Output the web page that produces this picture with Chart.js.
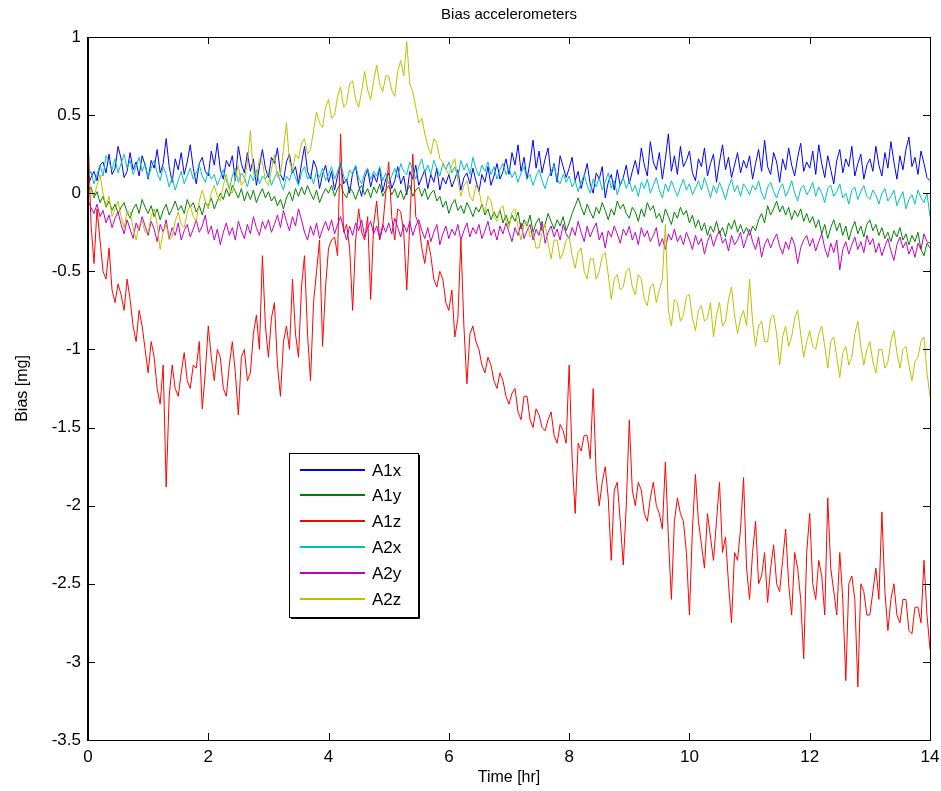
<!DOCTYPE html>
<html>
	<head>
		<meta charset="UTF-8">
		<title>Bias accelerometers</title>
		<script src="https://cdn.jsdelivr.net/npm/chart.js@4.4.1/dist/chart.umd.min.js"></script>
		<style type="text/css">
			*{
				margin: 0;
				padding: 0;
			}
			body{
				background: white;
			}
		</style>
	</head>
	<body>
		<canvas id="biasChart" width="941" height="791"></canvas>
		<script type="text/javascript">
			// time axis [hr], one row per hour
			var hours = [
				0,0.05,0.1,0.15,0.2,0.25,0.3,0.35,0.4,0.45,0.5,0.55,0.6,0.65,0.7,0.75,0.8,0.85,0.9,0.95,
				1,1.05,1.1,1.15,1.2,1.25,1.3,1.35,1.4,1.45,1.5,1.55,1.6,1.65,1.7,1.75,1.8,1.85,1.9,1.95,
				2,2.05,2.1,2.15,2.2,2.25,2.3,2.35,2.4,2.45,2.5,2.55,2.6,2.65,2.7,2.75,2.8,2.85,2.9,2.95,
				3,3.05,3.1,3.15,3.2,3.25,3.3,3.35,3.4,3.45,3.5,3.55,3.6,3.65,3.7,3.75,3.8,3.85,3.9,3.95,
				4,4.05,4.1,4.15,4.2,4.25,4.3,4.35,4.4,4.45,4.5,4.55,4.6,4.65,4.7,4.75,4.8,4.85,4.9,4.95,
				5,5.05,5.1,5.15,5.2,5.25,5.3,5.35,5.4,5.45,5.5,5.55,5.6,5.65,5.7,5.75,5.8,5.85,5.9,5.95,
				6,6.05,6.1,6.15,6.2,6.25,6.3,6.35,6.4,6.45,6.5,6.55,6.6,6.65,6.7,6.75,6.8,6.85,6.9,6.95,
				7,7.05,7.1,7.15,7.2,7.25,7.3,7.35,7.4,7.45,7.5,7.55,7.6,7.65,7.7,7.75,7.8,7.85,7.9,7.95,
				8,8.05,8.1,8.15,8.2,8.25,8.3,8.35,8.4,8.45,8.5,8.55,8.6,8.65,8.7,8.75,8.8,8.85,8.9,8.95,
				9,9.05,9.1,9.15,9.2,9.25,9.3,9.35,9.4,9.45,9.5,9.55,9.6,9.65,9.7,9.75,9.8,9.85,9.9,9.95,
				10,10.05,10.1,10.15,10.2,10.25,10.3,10.35,10.4,10.45,10.5,10.55,10.6,10.65,10.7,10.75,10.8,10.85,10.9,10.95,
				11,11.05,11.1,11.15,11.2,11.25,11.3,11.35,11.4,11.45,11.5,11.55,11.6,11.65,11.7,11.75,11.8,11.85,11.9,11.95,
				12,12.05,12.1,12.15,12.2,12.25,12.3,12.35,12.4,12.45,12.5,12.55,12.6,12.65,12.7,12.75,12.8,12.85,12.9,12.95,
				13,13.05,13.1,13.15,13.2,13.25,13.3,13.35,13.4,13.45,13.5,13.55,13.6,13.65,13.7,13.75,13.8,13.85,13.9,13.95,
				14
			];

			// bias values [mg]
			var a1x = [
				0.05,0.1,0.14,0.08,0.18,0.2,0.13,0.25,0.12,0.16,0.3,0.22,0.1,0.14,0.26,0.15,0.2,0.11,0.24,0.18,
				0.09,0.21,0.16,0.28,0.13,0.19,0.35,0.17,0.07,0.22,0.15,0.26,0.12,0.2,0.31,0.16,0.06,0.19,0.23,0.14,
				0.11,0.27,0.18,0.32,0.15,0.09,0.21,0.17,0.24,0.08,0.3,0.19,0.13,0.26,0.14,0.22,0.05,0.17,0.28,0.16,
				0.1,0.23,0.19,0.29,0.12,0.08,0.2,0.25,0.13,0.17,0.06,0.19,0.3,0.14,0.09,0.21,0.16,0.03,0.12,0.18,
				0.07,0.14,0.02,0.11,0.19,0.06,0.09,0,0.13,0.17,0.05,-0.02,0.1,0.15,0.04,0.12,0.07,0.16,0.01,0.09,
				0.13,0.03,0.08,0.17,0.06,0.11,-0.01,0.14,0.09,0.18,0.05,0.1,0.15,0.03,0.12,0.07,0.16,0.02,0.1,0.06,
				0.12,0.04,0.09,0.15,0.02,0.1,0.13,0.06,0.16,0.08,0.01,0.12,0.07,0.17,0.05,0.11,0.19,0.09,0.14,0.22,
				0.12,0.26,0.18,0.31,0.14,0.23,0.09,0.2,0.34,0.16,0.27,0.13,0.22,0.29,0.11,0.19,0.07,0.24,0.17,0.1,
				0.16,0.23,0.08,0.14,0.03,0.11,0.19,0.06,0,0.13,0.09,0.17,-0.03,0.07,0.12,0.02,0.15,0.05,0.1,0.18,
				0.06,0.14,0.21,0.12,0.29,0.18,0.11,0.33,0.2,0.15,0.26,0.09,0.22,0.38,0.14,0.24,0.12,0.3,0.17,0.21,
				0.27,0.13,0.08,0.22,0.17,0.29,0.11,0.19,0.25,0.07,0.2,0.31,0.15,0.23,0.1,0.18,0.26,0.13,0.21,0.16,
				0.24,0.09,0.19,0.28,0.14,0.34,0.17,0.12,0.26,0.2,0.07,0.22,0.15,0.29,0.18,0.11,0.23,0.32,0.14,0.2,
				0.16,0.27,0.12,0.31,0.19,0.1,0.24,0.15,0.06,0.21,0.28,0.13,0.22,0.17,0.3,0.11,0.19,0.25,0.09,0.18,
				0.22,0.14,0.3,0.18,0.11,0.26,0.16,0.33,0.2,0.09,0.24,0.15,0.28,0.36,0.17,0.23,0.12,0.27,0.19,0.1,
				0.08
			];
			var a1y = [
				0.02,0.04,-0.03,0.01,-0.06,-0.02,-0.09,-0.05,-0.11,-0.07,-0.13,-0.09,-0.06,-0.12,-0.16,-0.1,-0.07,-0.13,-0.04,-0.09,
				-0.13,-0.08,-0.15,-0.1,-0.17,-0.11,-0.07,-0.14,-0.1,-0.05,-0.11,-0.08,-0.13,-0.04,-0.09,-0.06,-0.12,-0.08,-0.14,-0.06,
				-0.08,-0.03,-0.1,-0.05,0,-0.04,0.03,-0.02,0.05,0.01,-0.03,0.03,-0.05,0.01,-0.04,0.02,-0.06,-0.01,0.03,-0.03,
				0.01,-0.05,-0.02,-0.08,-0.04,-0.1,-0.03,0.01,-0.05,0.03,-0.02,0.04,-0.01,0.05,0,-0.04,0.02,-0.06,-0.01,0.03,
				0,0.05,-0.02,0.03,0.06,0,-0.03,0.04,0.01,-0.04,0.02,0.05,-0.01,0.03,-0.03,0.04,0,0.06,-0.02,0.02,
				0.05,-0.01,0.03,-0.03,0.02,-0.04,0.01,0.05,-0.02,0.02,0.04,-0.02,0.03,-0.04,0,0.02,-0.05,-0.02,-0.09,-0.05,
				-0.13,-0.07,-0.04,-0.11,-0.08,-0.13,-0.06,-0.1,-0.15,-0.09,-0.12,-0.07,-0.14,-0.1,-0.17,-0.12,-0.16,-0.11,-0.19,-0.14,
				-0.2,-0.14,-0.18,-0.12,-0.23,-0.17,-0.21,-0.14,-0.25,-0.19,-0.16,-0.24,-0.2,-0.13,-0.18,-0.23,-0.17,-0.21,-0.15,-0.24,
				-0.19,-0.13,-0.08,-0.03,-0.09,-0.14,-0.07,-0.12,-0.16,-0.09,-0.13,-0.06,-0.11,-0.17,-0.1,-0.14,-0.05,-0.1,-0.07,-0.13,
				-0.16,-0.09,-0.12,-0.18,-0.1,-0.15,-0.06,-0.11,-0.08,-0.16,-0.13,-0.19,-0.1,-0.15,-0.2,-0.12,-0.16,-0.09,-0.14,-0.11,
				-0.19,-0.14,-0.22,-0.17,-0.24,-0.19,-0.27,-0.21,-0.25,-0.18,-0.26,-0.22,-0.28,-0.19,-0.23,-0.17,-0.25,-0.2,-0.26,-0.22,
				-0.27,-0.21,-0.24,-0.17,-0.13,-0.19,-0.08,-0.14,-0.1,-0.05,-0.12,-0.08,-0.14,-0.09,-0.17,-0.11,-0.15,-0.1,-0.18,-0.13,
				-0.19,-0.15,-0.22,-0.17,-0.26,-0.2,-0.29,-0.22,-0.17,-0.24,-0.19,-0.27,-0.21,-0.3,-0.23,-0.18,-0.26,-0.21,-0.28,-0.2,
				-0.17,-0.24,-0.2,-0.27,-0.22,-0.29,-0.25,-0.31,-0.24,-0.28,-0.22,-0.3,-0.26,-0.33,-0.27,-0.31,-0.25,-0.36,-0.4,-0.32,
				-0.35
			];
			var a1z = [
				0.38,-0.2,-0.45,-0.1,-0.3,-0.5,-0.55,-0.35,-0.62,-0.7,-0.58,-0.65,-0.75,-0.55,-0.68,-0.85,-0.95,-0.75,-0.85,-1,
				-1.15,-0.95,-1.05,-1.25,-1.35,-1.1,-1.88,-1.3,-1.1,-1.25,-1.3,-1.15,-1.02,-1.2,-1.25,-1.1,-1.12,-0.95,-1.38,-1.15,
				-0.85,-1.05,-1.2,-1,-1.05,-1.25,-1.3,-1.1,-0.95,-1.15,-1.42,-1.05,-1,-1.2,-1.15,-0.9,-0.78,-1,-0.4,-0.85,
				-1.05,-0.8,-0.7,-1.1,-1.3,-0.95,-0.85,-1,-0.55,-0.9,-1.05,-0.6,-0.4,-0.9,-1.2,-0.7,-0.5,-0.3,-0.98,-0.6,
				-0.35,-0.3,-0.28,-0.4,0.38,-0.25,-0.2,-0.35,-0.75,-0.3,-0.1,-0.25,-0.3,-0.15,-0.68,-0.2,-0.05,-0.3,-0.22,0,
				0.2,-0.15,-0.3,-0.1,-0.12,-0.25,-0.62,-0.2,0.25,-0.15,-0.2,-0.35,-0.45,-0.3,-0.4,-0.55,-0.6,-0.5,-0.55,-0.7,
				-0.75,-0.62,-0.92,-0.8,-0.3,-0.85,-1.22,-0.9,-0.85,-0.95,-1,-1.1,-1.15,-1.05,-1.1,-1.2,-1.25,-1.15,-1.2,-1.3,
				-1.35,-1.28,-1.25,-1.4,-1.45,-1.3,-1.3,-1.45,-1.5,-1.38,-1.42,-1.5,-1.52,-1.45,-1.4,-1.55,-1.6,-1.48,-1.52,-1.6,
				-1.1,-1.7,-2.05,-1.6,-1.65,-1.55,-1.55,-1.7,-1.25,-1.8,-2,-1.85,-1.75,-1.95,-2.35,-1.9,-1.85,-2.1,-2.38,-2,
				-1.45,-1.9,-2,-1.85,-1.9,-2.05,-2.1,-1.95,-1.85,-2,-2.05,-2.15,-1.72,-2.2,-2.6,-2.1,-1.95,-2.05,-2.1,-2.3,
				-2.7,-2.15,-1.8,-2.1,-2.25,-2.4,-2.05,-2.2,-2.35,-2.1,-1.85,-2.3,-2.2,-2.5,-2.75,-2.3,-2.35,-2.15,-1.82,-2.4,
				-2.6,-2.3,-2.1,-2.5,-2.45,-2.3,-2.62,-2.4,-2.25,-2.5,-2.55,-2.35,-2.15,-2.5,-2.7,-2.3,-2.4,-2.6,-2.98,-2.3,
				-2.05,-2.5,-2.6,-2.35,-2.45,-2.7,-1.95,-2.4,-2.55,-2.7,-2.3,-2.6,-3.12,-2.5,-2.45,-2.6,-3.16,-2.5,-2.55,-2.7,
				-2.7,-2.55,-2.4,-2.6,-2.04,-2.55,-2.8,-2.6,-2.5,-2.7,-2.75,-2.6,-2.6,-2.8,-2.82,-2.65,-2.65,-2.75,-2.35,-2.7,
				-2.92
			];
			var a2x = [
				0.1,0.14,0.06,0.12,0.18,0.11,0.24,0.2,0.15,0.22,0.13,0.19,0.25,0.16,0.21,0.12,0.17,0.23,0.14,0.19,
				0.1,0.16,0.21,0.13,0.08,0.17,0.12,0.04,0.1,0.02,0.08,0.14,0.06,0.11,0.16,0.09,0.13,0.18,0.11,0.07,
				0.14,0.09,0.12,0.05,0.1,0.15,0.08,0.03,0.11,0.16,0.07,0.13,0.1,0.04,0.12,0.08,0.15,0.06,0.11,0.09,
				0.13,0.05,0.1,0.14,0.07,0.02,0.11,0.08,0.15,0.1,0.05,0.13,0.17,0.09,0.12,0.06,0.14,0.1,0.16,0.08,
				0.12,0.17,0.09,0.14,0.2,0.11,0.07,0.15,0.12,0.18,0.1,0.06,0.13,0.16,0.09,0.14,0.11,0.17,0.08,0.13,
				0.06,0.11,0.16,0.1,0.19,0.14,0.12,0.2,0.15,0.09,0.17,0.22,0.13,0.18,0.12,0.21,0.16,0.11,0.19,0.15,
				0.2,0.13,0.17,0.1,0.21,0.15,0.19,0.12,0.23,0.16,0.11,0.18,0.14,0.2,0.12,0.17,0.09,0.15,0.19,0.12,
				0.16,0.1,0.14,0.07,0.13,0.17,0.09,0.12,0.05,0.11,0.15,0.08,0.03,0.1,0.14,0.18,0.09,0.06,0.12,0.07,
				0.11,0.04,0.08,0.01,0.07,0.12,0.05,0,0.09,0.04,0.1,0.02,0.07,0.13,0.03,0.08,-0.01,0.06,0.1,0.03,
				0.08,0.01,0.05,-0.02,0.07,0.03,0.09,0,0.05,0.1,0.02,-0.03,0.06,0.01,0.08,0.03,-0.02,0.04,0.09,0.02,
				0.06,-0.01,0.03,0.08,0.02,0.1,0.04,-0.03,0.05,0,0.07,0.02,-0.04,0.04,0.09,0.01,0.05,-0.02,0.06,0.03,
				-0.01,0.05,0.02,0.08,0,-0.04,0.04,0.07,0.01,-0.03,0.03,0.06,-0.02,0.02,0.08,0,-0.05,0.03,0.05,-0.01,
				0.02,0.07,-0.02,0.04,0,-0.06,0.03,0.05,-0.02,0.01,0.06,-0.03,0,-0.07,0.02,0.04,-0.04,0.01,0.05,-0.02,
				-0.04,0.02,-0.01,-0.07,0,0.03,-0.05,-0.02,0.02,-0.08,-0.03,0.01,-0.1,-0.04,-0.01,-0.07,0.02,-0.03,-0.06,0,
				-0.15
			];
			var a2y = [
				-0.05,-0.09,-0.13,-0.07,-0.15,-0.11,-0.19,-0.14,-0.22,-0.16,-0.12,-0.2,-0.26,-0.17,-0.23,-0.29,-0.19,-0.24,-0.15,-0.21,
				-0.27,-0.18,-0.23,-0.31,-0.2,-0.25,-0.17,-0.29,-0.22,-0.27,-0.19,-0.3,-0.24,-0.2,-0.28,-0.23,-0.17,-0.25,-0.21,-0.14,
				-0.26,-0.21,-0.3,-0.23,-0.33,-0.25,-0.19,-0.27,-0.22,-0.3,-0.18,-0.24,-0.29,-0.2,-0.26,-0.15,-0.22,-0.27,-0.18,-0.23,
				-0.17,-0.25,-0.2,-0.14,-0.22,-0.11,-0.18,-0.24,-0.15,-0.21,-0.1,-0.17,-0.25,-0.3,-0.21,-0.27,-0.19,-0.29,-0.23,-0.18,
				-0.24,-0.17,-0.26,-0.2,-0.15,-0.23,-0.3,-0.21,-0.27,-0.19,-0.24,-0.17,-0.28,-0.22,-0.18,-0.26,-0.21,-0.29,-0.2,-0.25,
				-0.19,-0.26,-0.16,-0.22,-0.28,-0.2,-0.25,-0.18,-0.27,-0.21,-0.17,-0.24,-0.29,-0.22,-0.31,-0.25,-0.2,-0.33,-0.26,-0.21,
				-0.29,-0.23,-0.27,-0.2,-0.3,-0.24,-0.19,-0.28,-0.22,-0.26,-0.2,-0.29,-0.24,-0.18,-0.27,-0.23,-0.3,-0.21,-0.26,-0.19,
				-0.25,-0.31,-0.22,-0.27,-0.19,-0.29,-0.24,-0.2,-0.3,-0.23,-0.27,-0.18,-0.32,-0.25,-0.21,-0.28,-0.23,-0.3,-0.2,-0.26,
				-0.29,-0.22,-0.27,-0.18,-0.25,-0.31,-0.21,-0.28,-0.23,-0.19,-0.3,-0.25,-0.35,-0.24,-0.28,-0.21,-0.26,-0.32,-0.23,-0.27,
				-0.21,-0.3,-0.25,-0.33,-0.22,-0.28,-0.24,-0.31,-0.27,-0.22,-0.34,-0.29,-0.36,-0.26,-0.3,-0.23,-0.31,-0.27,-0.33,-0.25,
				-0.3,-0.36,-0.27,-0.33,-0.29,-0.39,-0.31,-0.26,-0.34,-0.28,-0.24,-0.32,-0.29,-0.37,-0.27,-0.33,-0.3,-0.25,-0.35,-0.29,
				-0.23,-0.31,-0.36,-0.28,-0.41,-0.33,-0.29,-0.35,-0.3,-0.26,-0.34,-0.39,-0.31,-0.36,-0.28,-0.33,-0.45,-0.35,-0.3,-0.27,
				-0.34,-0.29,-0.37,-0.31,-0.26,-0.35,-0.41,-0.32,-0.38,-0.3,-0.49,-0.36,-0.31,-0.39,-0.33,-0.28,-0.36,-0.31,-0.38,-0.27,
				-0.33,-0.29,-0.38,-0.32,-0.4,-0.34,-0.29,-0.37,-0.43,-0.33,-0.28,-0.35,-0.31,-0.39,-0.34,-0.41,-0.32,-0.36,-0.26,-0.31,
				-0.32
			];
			var a2z = [
				0.08,0.02,-0.02,0.05,0.12,0,-0.08,-0.02,-0.15,-0.1,-0.05,-0.15,-0.22,-0.12,-0.12,-0.22,-0.3,-0.2,-0.18,-0.25,
				-0.25,-0.15,-0.1,-0.2,-0.36,-0.25,-0.2,-0.3,-0.28,-0.18,-0.12,-0.2,-0.22,-0.12,-0.08,-0.15,-0.18,-0.05,0.02,-0.05,
				-0.1,0,0.05,-0.02,-0.05,0.05,0.12,0.02,0,0.1,0.18,0.05,0.08,0.2,0.4,0.12,0.1,0.22,0.2,0.08,
				0.05,0.15,0.25,0.1,0.12,0.28,0.45,0.2,0.15,0.25,0.22,0.32,0.35,0.25,0.28,0.4,0.52,0.45,0.42,0.55,
				0.6,0.48,0.5,0.62,0.68,0.55,0.58,0.7,0.72,0.6,0.55,0.65,0.78,0.66,0.6,0.72,0.82,0.7,0.65,0.75,
				0.75,0.66,0.62,0.78,0.85,0.75,0.97,0.7,0.65,0.55,0.45,0.48,0.38,0.3,0.25,0.35,0.32,0.22,0.2,0.15,
				0.12,0.18,0.22,0.08,-0.02,0.05,0.08,-0.02,-0.05,0.05,0.02,-0.08,-0.12,-0.02,-0.05,-0.15,-0.18,-0.1,-0.08,-0.18,
				-0.22,-0.12,-0.1,-0.22,-0.3,-0.2,-0.18,-0.28,-0.25,-0.35,-0.35,-0.25,-0.2,-0.32,-0.42,-0.3,-0.3,-0.42,-0.38,-0.3,
				-0.28,-0.4,-0.48,-0.38,-0.35,-0.5,-0.55,-0.42,-0.42,-0.55,-0.5,-0.4,-0.38,-0.52,-0.68,-0.55,-0.52,-0.62,-0.6,-0.5,
				-0.48,-0.6,-0.65,-0.52,-0.55,-0.68,-0.72,-0.6,-0.58,-0.7,-0.62,-0.55,-0.2,-0.75,-0.85,-0.68,-0.7,-0.82,-0.78,-0.66,
				-0.65,-0.8,-0.88,-0.75,-0.72,-0.82,-0.8,-0.7,-0.92,-0.78,-0.7,-0.85,-0.82,-0.68,-0.6,-0.78,-0.9,-0.8,-0.75,-0.85,
				-0.55,-0.82,-0.98,-0.85,-0.82,-0.95,-0.95,-0.8,-0.78,-0.9,-1.1,-0.92,-0.85,-0.98,-0.92,-0.8,-0.75,-0.9,-1.05,-0.95,
				-0.88,-0.98,-1,-0.9,-0.85,-0.98,-1.12,-0.95,-0.92,-1.05,-1.18,-1.02,-0.98,-1.1,-1.05,-0.9,-0.82,-0.98,-1.1,-1,
				-0.95,-1.08,-1.15,-1,-1,-1.12,-1.08,-0.95,-0.88,-1.02,-1.12,-1,-0.98,-1.1,-1.2,-1.08,-1.05,-0.95,-0.92,-1.15,
				-1.3
			];

			var seriesNames = ["A1x", "A1y", "A1z", "A2x", "A2y", "A2z"];
			var seriesColors = ["#0000ff", "#008000", "#ff0000", "#00bfbf", "#bf00bf", "#bfbf00"];
			var seriesValues = [a1x, a1y, a1z, a2x, a2y, a2z];
			var xTicks = [0, 2, 4, 6, 8, 10, 12, 14];
			var yTicks = [-3.5, -3, -2.5, -2, -1.5, -1, -0.5, 0, 0.5, 1];

			var fontFamily = "'Liberation Sans', Arial, sans-serif";

			function toPoints(vals){
				return vals.map(function(v, i){
					return {x: hours[i], y: v};
				});
			}

			var datasets = seriesValues.map(function(vals, i){
				return {
					label: seriesNames[i],
					data: toPoints(vals),
					borderColor: seriesColors[i],
					backgroundColor: seriesColors[i],
					borderWidth: 1,
					pointRadius: 0,
					tension: 0,
					fill: false,
					order: seriesValues.length - i
				};
			});

			// box, inward ticks, title and legend like the matlab figure
			var matlabFrame = {
				id: "matlabFrame",
				afterDatasetsDraw: function(chart){
					var ctx = chart.ctx;
					var a = chart.chartArea;
					var x = chart.scales.x;
					var y = chart.scales.y;
					ctx.save();
					ctx.strokeStyle = "#000";
					ctx.lineWidth = 1;
					ctx.strokeRect(Math.round(a.left) + 0.5, Math.round(a.top) + 0.5, Math.round(a.width), Math.round(a.height));
					ctx.beginPath();
					ctx.moveTo(Math.round(a.left) - 0.5, a.top);
					ctx.lineTo(Math.round(a.left) - 0.5, a.bottom + 1);
					xTicks.forEach(function(v){
						var px = Math.round(x.getPixelForValue(v)) + 0.5;
						ctx.moveTo(px, a.bottom); ctx.lineTo(px, a.bottom - 7);
						ctx.moveTo(px, a.top); ctx.lineTo(px, a.top + 7);
					});
					yTicks.forEach(function(v){
						var py = Math.round(y.getPixelForValue(v)) + 0.5;
						ctx.moveTo(a.left, py); ctx.lineTo(a.left + 7, py);
						ctx.moveTo(a.right, py); ctx.lineTo(a.right - 7, py);
					});
					ctx.stroke();

					// title
					ctx.fillStyle = "#000";
					ctx.font = "15px " + fontFamily;
					ctx.textAlign = "center";
					ctx.textBaseline = "middle";
					ctx.fillText("Bias accelerometers", (a.left + a.right) / 2, 15);

					// legend
					var lx = 289, ly = 453, lw = 129, lh = 164;
					ctx.fillStyle = "#fff";
					ctx.fillRect(lx, ly, lw, lh);
					ctx.strokeStyle = "#000";
					ctx.strokeRect(lx + 0.5, ly + 0.5, lw, lh);
					ctx.beginPath();
					ctx.moveTo(lx + lw + 1.5, ly + 2); ctx.lineTo(lx + lw + 1.5, ly + lh + 1.5); ctx.lineTo(lx + 2, ly + lh + 1.5);
					ctx.stroke();
					ctx.font = "17px " + fontFamily;
					ctx.textAlign = "left";
					seriesNames.forEach(function(name, i){
						var ry = Math.round(ly + 16.5 + i * 25.8);
						ctx.fillStyle = seriesColors[i];
						ctx.fillRect(lx + 11, ry - 1, 65, 2);
						ctx.fillStyle = "#000";
						ctx.fillText(name, lx + 83, ry + 1);
					});
					ctx.restore();
				}
			};

			var ctx = document.getElementById("biasChart").getContext("2d");
			var chart = new Chart(ctx, {
				type: "line",
				data: {datasets: datasets},
				options: {
					responsive: false,
					animation: false,
					layout: {padding: {top: 37, right: 11, left: 0, bottom: 0}},
					plugins: {
						legend: {display: false},
						tooltip: {enabled: false},
						title: {display: false}
					},
					scales: {
						x: {
							type: "linear",
							min: 0,
							max: 14,
							afterFit: function(s){ s.height = 51; s.paddingLeft = 0; s.paddingRight = 0; },
							afterBuildTicks: function(s){ s.ticks = xTicks.map(function(v){ return {value: v}; }); },
							grid: {display: false, drawTicks: false},
							border: {display: false},
							ticks: {color: "#000", padding: 7, maxRotation: 0, font: {family: fontFamily, size: 17},
								callback: function(v){ return String(v); }},
							title: {display: true, text: "Time [hr]", color: "#000", padding: {top: 0, bottom: 4}, font: {family: fontFamily, size: 16}}
						},
						y: {
							type: "linear",
							min: -3.5,
							max: 1,
							afterFit: function(s){ s.width = 88; s.paddingTop = 0; s.paddingBottom = 0; },
							afterBuildTicks: function(s){ s.ticks = yTicks.map(function(v){ return {value: v}; }); },
							grid: {display: false, drawTicks: false},
							border: {display: false},
							ticks: {color: "#000", padding: 7, font: {family: fontFamily, size: 17},
								callback: function(v){ return String(v); }},
							title: {display: true, text: "Bias [mg]", color: "#000", padding: {top: 13, bottom: 0}, font: {family: fontFamily, size: 16}}
						}
					}
				},
				plugins: [matlabFrame]
			});
		</script>
	</body>
</html>
